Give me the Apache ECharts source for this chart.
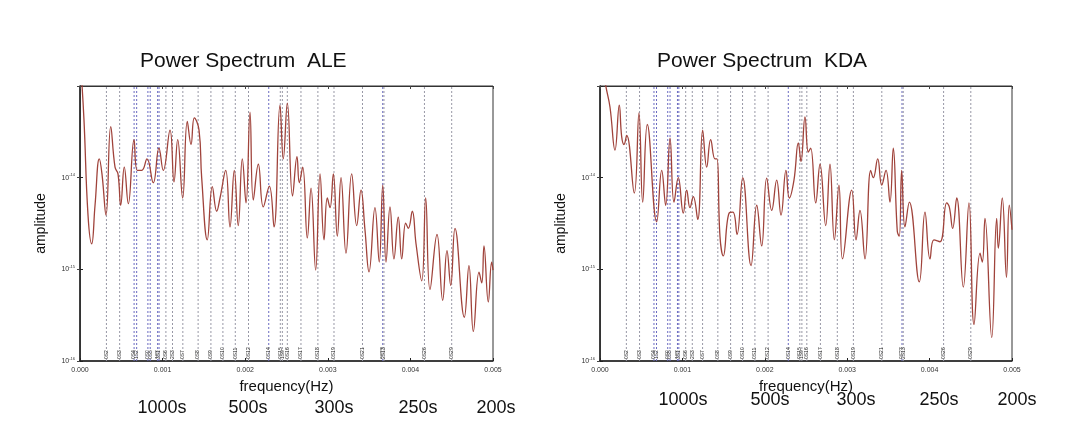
<!DOCTYPE html>
<html>
<head>
<meta charset="utf-8">
<script src="https://cdn.jsdelivr.net/npm/echarts@6/dist/echarts.min.js"></script>
<style>
  html, body { margin: 0; background: #fff; }
  #main { width: 1071px; height: 444px; }
</style>
</head>
<body>
<div id="main"></div>
<script>
// frequencies in mHz, amplitudes
var freqALE = [0.012, 0.048, 0.097, 0.142, 0.182, 0.234, 0.266, 0.315, 0.372, 0.424,
  0.460, 0.493, 0.536, 0.585, 0.654, 0.694, 0.747, 0.811, 0.887, 0.956,
  1.008, 1.090, 1.138, 1.183, 1.243, 1.299, 1.344, 1.384, 1.441, 1.473,
  1.541, 1.602, 1.655, 1.695, 1.764, 1.816, 1.868, 1.916, 1.965, 2.010,
  2.058, 2.098, 2.159, 2.219, 2.292, 2.349, 2.421, 2.461, 2.510, 2.573,
  2.627, 2.655, 2.696, 2.752, 2.797, 2.853, 2.906, 2.954, 2.994, 3.027,
  3.067, 3.115, 3.160, 3.220, 3.289, 3.350, 3.402, 3.450, 3.499, 3.571,
  3.623, 3.665, 3.705, 3.753, 3.801, 3.853, 3.895, 3.943, 3.975, 4.023,
  4.068, 4.137, 4.185, 4.237, 4.322, 4.391, 4.443, 4.488, 4.540, 4.653,
  4.709, 4.762, 4.831, 4.864, 4.891, 4.943, 4.984, 5.000];
var ampALE = [1.5e-13, 4.3e-14, 3.9e-15, 1.9e-15, 5.0e-15, 1.6e-14, 1.1e-14, 3.9e-15, 3.6e-14, 1.3e-14,
  1.1e-14, 5.0e-15, 1.3e-14, 5.2e-15, 2.6e-14, 1.2e-14, 1.2e-14, 1.6e-14, 8.8e-15, 2.1e-14,
  1.2e-14, 3.3e-14, 9.0e-15, 2.6e-14, 6.0e-15, 4.1e-14, 2.3e-14, 4.5e-14, 3.3e-14, 1.0e-14,
  2.1e-15, 8.0e-15, 4.3e-15, 6.0e-15, 1.2e-14, 2.9e-15, 1.2e-14, 3.0e-15, 1.6e-14, 5.3e-15,
  5.2e-14, 5.7e-15, 1.4e-14, 4.8e-15, 8.1e-15, 2.9e-15, 6.2e-14, 1.6e-14, 6.5e-14, 6.3e-15,
  1.7e-14, 8.8e-15, 1.3e-14, 2.2e-15, 7.7e-15, 9.8e-16, 1.1e-14, 2.1e-15, 6.0e-15, 4.7e-15,
  1.1e-14, 2.3e-15, 1.0e-14, 1.5e-15, 1.1e-14, 3.0e-15, 7.3e-15, 2.7e-15, 9.4e-16, 4.7e-15,
  1.2e-15, 8.3e-15, 1.2e-15, 4.8e-15, 1.3e-15, 3.7e-15, 1.3e-15, 3.2e-15, 2.8e-15, 4.3e-15,
  1.9e-15, 7.5e-16, 6.0e-15, 6.0e-16, 2.4e-15, 4.6e-16, 1.6e-15, 6.7e-16, 2.8e-15, 3.0e-16,
  1.1e-15, 2.1e-16, 9.3e-16, 7.1e-16, 1.8e-15, 4.4e-16, 1.2e-15, 9.8e-16];

var freqKDA = [0.036, 0.073, 0.121, 0.182, 0.234, 0.263, 0.291, 0.324, 0.416, 0.473,
  0.518, 0.574, 0.688, 0.749, 0.797, 0.850, 0.898, 0.950, 1.011, 1.052,
  1.092, 1.132, 1.186, 1.246, 1.295, 1.343, 1.396, 1.420, 1.456, 1.496,
  1.566, 1.614, 1.663, 1.732, 1.833, 1.902, 1.962, 2.023, 2.084, 2.144,
  2.197, 2.257, 2.297, 2.354, 2.407, 2.439, 2.488, 2.528, 2.557, 2.618,
  2.670, 2.739, 2.791, 2.844, 2.900, 2.943, 3.055, 3.107, 3.155, 3.216,
  3.285, 3.317, 3.370, 3.419, 3.471, 3.519, 3.559, 3.608, 3.632, 3.661,
  3.701, 3.754, 3.875, 3.944, 4.005, 4.053, 4.126, 4.208, 4.239, 4.280,
  4.329, 4.409, 4.478, 4.539, 4.612, 4.640, 4.672, 4.754, 4.814, 4.834,
  4.882, 4.933, 4.967, 5.000];
var ampKDA = [1.5e-13, 9.7e-14, 5.9e-14, 2.0e-14, 6.2e-14, 2.8e-14, 2.3e-14, 2.9e-14, 6.8e-15, 5.1e-14,
  5.4e-15, 3.8e-14, 3.3e-15, 1.2e-14, 5.0e-15, 2.7e-14, 5.4e-15, 1.0e-14, 4.1e-15, 7.3e-15,
  4.7e-15, 6.2e-15, 3.5e-15, 3.3e-14, 1.3e-14, 2.6e-14, 1.6e-14, 1.6e-14, 2.3e-15, 1.4e-15,
  4.1e-15, 4.2e-15, 2.4e-15, 1.0e-14, 1.1e-15, 5.0e-15, 1.8e-15, 9.9e-15, 4.4e-15, 9.4e-15,
  3.9e-15, 1.2e-14, 6.0e-15, 9.4e-15, 2.4e-14, 1.5e-14, 4.6e-14, 1.9e-14, 2.1e-14, 5.3e-15,
  1.4e-14, 3.0e-15, 1.4e-14, 2.1e-15, 8.3e-15, 1.3e-15, 7.3e-15, 2.1e-15, 4.4e-15, 1.3e-15,
  1.2e-14, 1.0e-14, 1.6e-14, 8.3e-15, 1.2e-14, 5.4e-15, 2.1e-14, 2.6e-15, 2.3e-15, 1.2e-14,
  2.9e-15, 5.4e-15, 7.3e-16, 4.2e-15, 1.3e-15, 2.1e-15, 2.0e-15, 5.3e-15, 4.8e-15, 2.8e-15,
  6.0e-15, 6.4e-16, 5.3e-15, 2.5e-16, 1.5e-15, 1.2e-15, 3.6e-15, 1.8e-16, 3.6e-15, 1.7e-15,
  6.0e-15, 8.2e-16, 5.0e-15, 2.7e-15];

// normal mode reference lines (mHz)
var modeFreq = [0.32, 0.48, 0.655, 0.686, 0.822, 0.85, 0.94, 0.957, 1.04, 1.12,
  1.245, 1.43, 1.585, 1.73, 1.88, 2.04, 2.285, 2.425, 2.45, 2.51,
  2.675, 2.88, 3.075, 3.42, 3.665, 3.68, 4.17, 4.50];
var modeName = ['0S2', '0S3', '0S4', '1S2', '0S0', '0S5', '1S3', '3S1', '0S6', '2S3',
  '0S7', '0S8', '0S9', '0S10', '0S11', '0S12', '0S14', '0S15', '1S9', '0S16',
  '0S17', '0S18', '0S19', '0S21', '0S23', '2S13', '0S26', '0S29'];

var stations = ['ALE', 'KDA'];
var periodLabels = ['1000s', '500s', '300s', '250s', '200s'];

var FONT = '"Liberation Sans", Arial, Helvetica, sans-serif';
var blueModes = ['0S4', '1S2', '0S0', '0S5', '1S3', '3S1', '0S14', '0S23'];
var Y_MIN = 1e-16, Y_MAX = 1e-13;

function pairs(fs, as) {
  return fs.map(function (f, i) { return [f / 1000, as[i]]; });
}

// dashed mode lines with their small rotated labels, placed through the axes
function renderMode(params, api) {
  var f = api.value(0);
  var i = api.value(2);
  var p0 = api.coord([f, Y_MIN]);
  var p1 = api.coord([f, Y_MAX]);
  var blue = blueModes.indexOf(modeName[i]) >= 0;
  return {
    type: 'group',
    children: [{
      type: 'line',
      shape: { x1: p0[0], y1: p0[1], x2: p1[0], y2: p1[1] },
      style: { stroke: blue ? '#6a6ac0' : '#9898a6', lineWidth: 1, lineDash: [2, 2] }
    }, {
      type: 'text',
      x: p0[0], y: p0[1] - 2,
      rotation: Math.PI / 2,
      style: {
        text: modeName[i], fill: '#222', fontSize: 5, fontFamily: FONT,
        align: 'left', verticalAlign: 'middle',
        backgroundColor: 'rgba(255,255,255,0.6)'
      }
    }]
  };
}

var grids = [
  { left: 80, top: 86, width: 413, height: 275 },
  { left: 600, top: 86, width: 412, height: 275 }
];

var option = {
  animation: false,
  title: [
    { text: 'Power Spectrum  ' + stations[0], left: 135, top: 46,
      textStyle: { fontSize: 21, fontWeight: 'normal', color: '#111', fontFamily: FONT } },
    { text: 'Power Spectrum  ' + stations[1], left: 652, top: 46,
      textStyle: { fontSize: 21, fontWeight: 'normal', color: '#111', fontFamily: FONT } }
  ],
  grid: grids.map(function (g) {
    return Object.assign({ show: true, borderColor: '#333', borderWidth: 1 }, g);
  }),
  xAxis: [],
  yAxis: [],
  series: [],
  graphic: []
};

[0, 1].forEach(function (k) {
  option.xAxis.push({
    type: 'value', gridIndex: k, min: 0, max: 0.005, interval: 0.001,
    name: 'frequency(Hz)', nameLocation: 'middle', nameGap: 16,
    nameTextStyle: { fontSize: 15, color: '#111', fontFamily: FONT },
    axisLine: { lineStyle: { color: '#222', width: 1.5 } },
    axisTick: { inside: true, length: 3, lineStyle: { color: '#222' } },
    axisLabel: { fontSize: 7, color: '#333', margin: 6, fontFamily: FONT,
      formatter: function (v) { return v.toFixed(3); } },
    splitLine: { show: false }
  });
  option.xAxis.push({
    type: 'value', gridIndex: k, position: 'top', min: 0, max: 0.005, interval: 0.001,
    axisLine: { lineStyle: { color: '#333' } },
    axisTick: { inside: true, length: 3, lineStyle: { color: '#444' } },
    axisLabel: { show: false }, splitLine: { show: false }
  });
  option.yAxis.push({
    type: 'log', logBase: 10, gridIndex: k, min: Y_MIN, max: Y_MAX,
    name: 'amplitude', nameLocation: 'middle', nameGap: 32, nameRotate: 90,
    nameTextStyle: { fontSize: 14, color: '#111', fontFamily: FONT },
    axisLine: { show: true, lineStyle: { color: '#222', width: 1.5 } },
    axisTick: { inside: true, length: 3, lineStyle: { color: '#222' } },
    axisLabel: {
      margin: 5, color: '#333',
      formatter: function (v) {
        var e = Math.round(Math.log10(v));
        return e === -13 ? '' : '{b|10}{s|' + e + '}';
      },
      rich: {
        b: { fontSize: 7, fontFamily: FONT, color: '#333' },
        s: { fontSize: 4, fontFamily: FONT, color: '#333', verticalAlign: 'top', padding: [0, 0, 5, 0] }
      }
    },
    splitLine: { show: false }
  });
  option.yAxis.push({
    type: 'log', logBase: 10, gridIndex: k, position: 'right', min: Y_MIN, max: Y_MAX,
    axisLine: { show: true, lineStyle: { color: '#333' } },
    axisTick: { inside: true, length: 3, lineStyle: { color: '#444' } },
    axisLabel: { show: false }, splitLine: { show: false }
  });
  option.series.push({
    type: 'custom', name: 'modes ' + stations[k],
    xAxisIndex: k * 2, yAxisIndex: k * 2, silent: true,
    data: modeFreq.map(function (f, i) { return [f / 1000, 1e-15, i]; }),
    encode: { x: 0, y: 1 },
    renderItem: renderMode,
    z: 1
  });
  option.series.push({
    type: 'line', name: stations[k],
    xAxisIndex: k * 2, yAxisIndex: k * 2,
    data: pairs(k === 0 ? freqALE : freqKDA, k === 0 ? ampALE : ampKDA),
    showSymbol: false, smooth: 0.45, clip: true,
    lineStyle: { color: '#a0433b', width: 1.3 },
    z: 3
  });
});

// period captions under the frequency axes
var periodX = [[162, 248, 334, 418, 496], [683, 770, 856, 939, 1017]];
var periodY = [408, 400];
[0, 1].forEach(function (k) {
  periodLabels.forEach(function (t, i) {
    option.graphic.push({
      type: 'text', x: periodX[k][i], y: periodY[k],
      style: { text: t, fill: '#111', font: '18px ' + FONT, align: 'center', verticalAlign: 'middle' }
    });
  });
});

var myChart = echarts.init(document.getElementById('main'));
myChart.setOption(option);
</script>
</body>
</html>
